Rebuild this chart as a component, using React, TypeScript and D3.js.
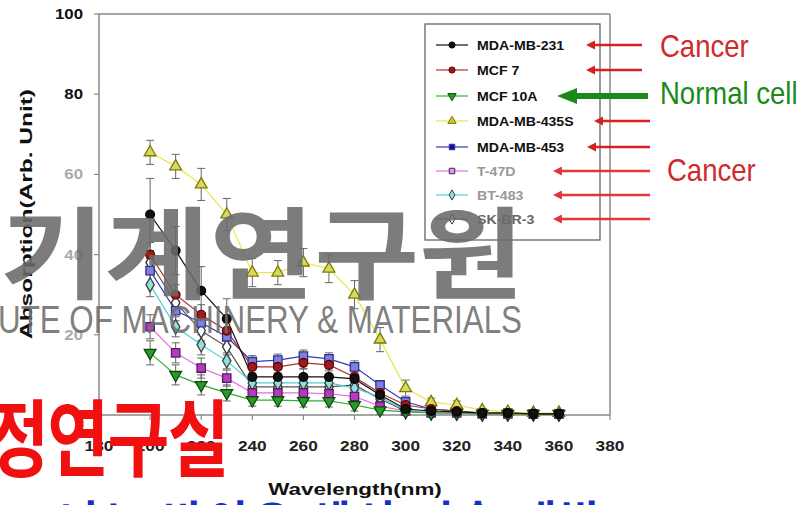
import React from 'react';
import * as d3 from 'd3';

// wavelengths (nm)
const wavelengths = [200, 210, 220, 230, 240, 250, 260, 270, 280, 290, 300, 310, 320, 330, 340, 350, 360];

const seriesNames = ['MDA-MB-231', 'MCF 7', 'MCF 10A', 'MDA-MB-435S', 'MDA-MB-453', 'T-47D', 'BT-483', 'SK-BR-3'];

const mdaMb231 = [50, 41, 31, 24, 9.5, 9.5, 9.5, 9.5, 9, 5, 1.5, 1, 0.8, 0.5, 0.5, 0.3, 0.3];
const mcf7 = [40, 30, 25, 21, 12, 12, 13, 12.5, 9.5, 5.5, 2.5, 1.5, 1, 0.5, 0.5, 0.3, 0.3];
const mcf10a = [15.5, 10, 7.5, 5.5, 3.7, 3.7, 3.5, 3.5, 2.5, 1.2, 0.8, 0.5, 0.5, 0.3, 0.3, 0.3, 0.3];
const mdaMb435s = [65.5, 62, 57.5, 50, 35.5, 35.5, 38, 36.5, 30, 18.8, 6.7, 3.2, 2.5, 1.2, 0.8, 0.5, 0.5];
const mdaMb453 = [36, 26, 23, 19.5, 13.3, 13.7, 14.7, 14, 12, 7.5, 3.3, 1.5, 1, 0.5, 0.5, 0.3, 0.3];
const t47d = [22, 15.5, 11.7, 9.2, 5.5, 5.5, 5.5, 5.3, 4.6, 2.2, 1, 0.5, 0.5, 0.3, 0.3, 0.3, 0.3];
const bt483 = [32.5, 22, 17.5, 13.5, 8, 8, 8, 8, 6.7, 4.5, 1.2, 0.8, 0.5, 0.3, 0.3, 0.3, 0.3];
const skBr3 = [38, 28, 21, 17, 7, 7, 7, 7, 7.5, 4, 1, 0.5, 0.5, 0.3, 0.3, 0.3, 0.3];

const errSmall = [3, 2.5, 2.5, 2, 1.5, 1.5, 1.5, 1.5, 1.5, 1, 0.8, 0.5, 0.5, 0.3, 0.3, 0.3, 0.3];
const err231 = [9, 6, 6, 5, 2, 2, 2, 2, 2, 1.5, 1, 0.5, 0.5, 0.3, 0.3, 0.3, 0.3];
const err435 = [3, 3, 4, 4, 3.5, 3, 3.5, 3.5, 3.5, 3, 2, 1, 1, 0.5, 0.5, 0.3, 0.3];

const seriesValues = [mdaMb231, mcf7, mcf10a, mdaMb435s, mdaMb453, t47d, bt483, skBr3];
const seriesErrors = [err231, errSmall, errSmall, err435, errSmall, errSmall, errSmall, errSmall];

const xTicks = [180, 200, 220, 240, 260, 280, 300, 320, 340, 360, 380];
const yTicks = [0, 20, 40, 60, 80, 100];

const lineColors = ['#111', '#b03030', '#30b030', '#e6e650', '#3a3ab8', '#e070e0', '#50d0d0', '#555'];
const fillColors = ['#111', '#9a1c1c', '#2a9a2a', '#d8d860', '#8080e0', '#b838c0', '#90e0e0', '#fff'];
const strokeColors = ['#000', '#600', '#0a4a0a', '#7a7a00', '#303090', '#502060', '#404040', '#333'];
const legendFill = ['#111', '#9a1c1c', '#2a9a2a', '#c8c830', '#10109a', '#d8a0d8', '#90e0e0', '#fff'];
const legendText = ['#111', '#111', '#111', '#111', '#111', '#999', '#999', '#666'];
const symbols = [d3.symbolCircle, d3.symbolCircle, d3.symbolTriangle, d3.symbolTriangle, d3.symbolSquare, d3.symbolSquare, d3.symbolDiamond, d3.symbolDiamond];

const x = d3.scaleLinear().domain([180, 380]).range([99, 610]);
const y = d3.scaleLinear().domain([0, 100]).range([415, 14]);

const FONT = "'Liberation Sans', Arial, sans-serif";
const NARROW = "'Liberation Sans Narrow', 'Arial Narrow', 'Liberation Sans', sans-serif";
const KR = "'Noto Sans CJK KR', sans-serif";

function Arrow({ tail, head, yy, color, w, hl, hh }: any) {
  return (
    <g>
      <line x1={tail} x2={head + hl - 1} y1={yy} y2={yy} stroke={color} strokeWidth={w} />
      <path d={`M${head},${yy}L${head + hl},${yy - hh}L${head + hl},${yy + hh}Z`} fill={color} />
    </g>
  );
}

export default function App() {
  const line = d3.line<number>().x((_, i) => x(wavelengths[i])).y(d => y(d));
  const drawOrder = [7, 6, 5, 4, 3, 2, 1, 0];
  const legendY = [45, 70, 96, 121, 147, 171, 195, 219];
  const arrows = [
    { tail: 642, head: 586, c: '#d82020' },
    { tail: 642, head: 586, c: '#d82020' },
    null,
    { tail: 650, head: 594, c: '#d82020' },
    { tail: 650, head: 587, c: '#d82020' },
    { tail: 650, head: 553, c: '#e03838' },
    { tail: 650, head: 553, c: '#e03838' },
    { tail: 650, head: 553, c: '#e03838' },
  ];

  return (
    <div style={{ position: 'absolute', left: 0, top: 0 }}>
      <svg width={806} height={505} viewBox="0 0 806 505" style={{ display: 'block', background: '#fff' }}>
        <defs>
          <linearGradient id="ytitle" gradientUnits="userSpaceOnUse" x1="0" y1="88" x2="0" y2="340">
            <stop offset="0" stopColor="#111" />
            <stop offset="0.35" stopColor="#222" />
            <stop offset="0.45" stopColor="#999" />
            <stop offset="1" stopColor="#aaa" />
          </linearGradient>
        </defs>

        {/* frame */}
        <g stroke="#888" strokeWidth={1.5} fill="none">
          <line x1={99} x2={610} y1={14} y2={14} />
          <line x1={610} x2={610} y1={14} y2={415} />
          <line x1={99} x2={99} y1={14} y2={415} />
          <line x1={99} x2={610} y1={415} y2={415} />
        </g>
        {yTicks.map(t => (
          <g key={'y' + t}>
            <line x1={94} x2={99} y1={y(t)} y2={y(t)} stroke="#888" strokeWidth={1.2} />
            <text transform={`translate(83,${y(t) + 5}) scale(1.2,1)`} textAnchor="end" fontFamily={FONT} fontWeight="bold" fontSize={14}
              fill={t >= 20 && t <= 60 ? '#aaa' : '#111'}>{t}</text>
          </g>
        ))}
        {xTicks.map(t => (
          <g key={'x' + t}>
            <line x1={x(t)} x2={x(t)} y1={415} y2={420} stroke="#888" strokeWidth={1.2} />
            <text transform={`translate(${x(t)},451) scale(1.15,1)`} textAnchor="middle" fontFamily={FONT} fontWeight="bold" fontSize={15}
              fill="#222">{t}</text>
          </g>
        ))}
        <text transform="translate(32,214) rotate(-90)" textAnchor="middle" fontFamily={FONT} fontWeight="bold" fontSize={17}
          textLength={250} lengthAdjust="spacingAndGlyphs" fill="url(#ytitle)">Absorption(Arb. Unit)</text>
        <text transform="translate(355,495) scale(1.32,1)" textAnchor="middle" fontFamily={FONT} fontWeight="bold" fontSize={17}
          fill="#111">Wavelength(nm)</text>

        {/* series lines */}
        {drawOrder.map(i => (
          <path key={'l' + i} d={line(seriesValues[i]) || ''} fill="none" stroke={lineColors[i]} strokeWidth={1.2} />
        ))}
        {/* error bars */}
        {drawOrder.map(i => (
          <g key={'e' + i} stroke="#666" strokeWidth={1}>
            {seriesValues[i].map((v, j) => {
              const e = seriesErrors[i][j];
              if (e < 1) return null;
              const cx = x(wavelengths[j]);
              return (
                <g key={j}>
                  <line x1={cx} x2={cx} y1={y(v + e)} y2={y(v - e)} />
                  <line x1={cx - 4} x2={cx + 4} y1={y(v + e)} y2={y(v + e)} />
                  <line x1={cx - 4} x2={cx + 4} y1={y(v - e)} y2={y(v - e)} />
                </g>
              );
            })}
          </g>
        ))}
        {/* markers */}
        {drawOrder.map(i => {
          const sym = d3.symbol().type(symbols[i]).size(i === 4 || i === 5 ? 70 : 60)();
          return (
            <g key={'m' + i}>
              {seriesValues[i].map((v, j) => (
                <path key={j} d={sym || ''} transform={`translate(${x(wavelengths[j])},${y(v)})${i === 2 ? ' rotate(180)' : ''}`}
                  fill={fillColors[i]} stroke={strokeColors[i]} strokeWidth={1.3} />
              ))}
            </g>
          );
        })}

        {/* legend */}
        <rect x={425} y={24} width={175} height={216} fill="#fff" stroke="#666" strokeWidth={1.3} />
        {seriesNames.map((n, i) => {
          const sym = d3.symbol().type(symbols[i]).size(30)();
          return (
            <g key={'lg' + i}>
              <line x1={436} x2={468} y1={legendY[i]} y2={legendY[i]} stroke={lineColors[i]} strokeWidth={1.2} />
              <path d={sym || ''} transform={`translate(452,${legendY[i]})${i === 2 ? ' rotate(180)' : ''}`}
                fill={legendFill[i]} stroke={strokeColors[i]} strokeWidth={1} />
              <text transform={`translate(477,${legendY[i] + 4.5}) scale(1.18,1)`} fontFamily={FONT} fontWeight="bold" fontSize={12}
                fill={legendText[i]}>{n}</text>
            </g>
          );
        })}

        {/* annotations */}
        {arrows.map((a, i) => a && (
          <Arrow key={'a' + i} tail={a.tail} head={a.head} yy={legendY[i]} color={a.c} w={2.6} hl={9} hh={4.5} />
        ))}
        <Arrow tail={648} head={557} yy={96} color="#1a8a1a" w={6} hl={20} hh={8} />
        <text transform="translate(660,57) scale(0.86,1)" fontFamily={NARROW} fontSize={32} fill="#d02a2a">Cancer</text>
        <text transform="translate(660,104) scale(0.86,1)" fontFamily={NARROW} fontSize={32} fill="#1a8a1a">Normal cell</text>
        <text transform="translate(667,181) scale(0.86,1)" fontFamily={NARROW} fontSize={32} fill="#d02a2a">Cancer</text>

        {/* watermark overlays */}
        <text transform="translate(524,291) scale(1.14,1)" textAnchor="end" fontFamily={KR} fontWeight="bold" fontSize={100}
          fill="#6a6a6a" fillOpacity={0.88}>기계연구원</text>
        <text x={-2} y={333} fontFamily={FONT} fontSize={38} textLength={524} lengthAdjust="spacingAndGlyphs"
          fill="#6e6e6e" fillOpacity={0.9}>UTE OF MACHINERY &amp; MATERIALS</text>
        <text transform="translate(228,470) scale(0.8,1)" textAnchor="end" fontFamily={KR} fontWeight="bold" fontSize={84} letterSpacing={-2}
          fill="#f01010">정연구실</text>
        <text x={60} y={538} fontFamily={KR} fontWeight="bold" fontSize={44} letterSpacing={4}
          fill="#1530c8">나노 바이오 센서 기술 개발</text>
      </svg>
    </div>
  );
}
